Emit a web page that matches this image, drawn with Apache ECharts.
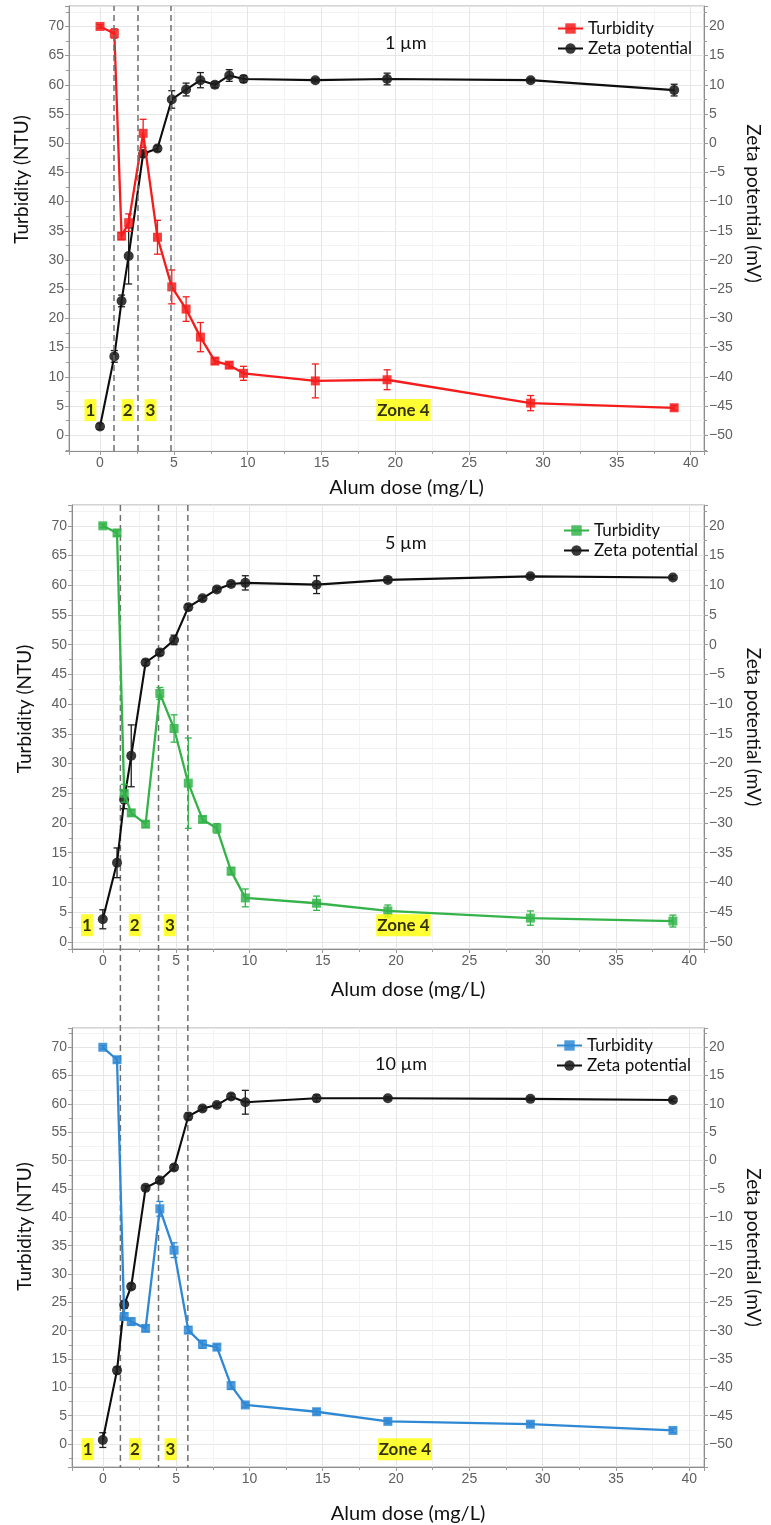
<!DOCTYPE html>
<html>
<head>
<meta charset="utf-8">
<script src="https://cdn.jsdelivr.net/npm/echarts@6/dist/echarts.min.js"></script>
<style>
html, body { margin: 0; padding: 0; background: #fff; }
#main { width: 771px; height: 1525px; }
</style>
</head>
<body>
<div id="main"></div>
<script>
// alum dose (mg/L), same for all three particle sizes
var dose = [0, 0.97, 1.46, 1.94, 2.92, 3.89, 4.86, 5.83, 6.8, 7.78, 8.75, 9.72, 14.58, 19.44, 29.16, 38.88];

// 1 um
var turb1 = [70, 68.8, 34.1, 36.4, 51.7, 33.9, 25.4, 21.6, 16.8, 12.7, 12.0, 10.6, 9.3, 9.5, 5.5, 4.7];
var turb1Err = [0.3, 0.8, 0.6, 1.5, 2.4, 2.9, 2.9, 2.1, 2.5, 0.5, 0.5, 1.2, 2.9, 1.7, 1.3, 0.4];
var zeta1 = [-48.5, -36.5, -27.0, -19.3, -1.8, -0.9, 7.5, 9.2, 10.8, 10.0, 11.6, 11.0, 10.8, 11.0, 10.8, 9.1];
var zeta1Err = [0.5, 1.0, 1.0, 4.8, 0.5, 0.5, 1.5, 1.1, 1.3, 0.5, 1.0, 0.6, 0.3, 1.0, 0.3, 1.0];

// 5 um
var turb2 = [70, 68.8, 25.0, 21.7, 19.8, 41.8, 35.9, 26.7, 20.6, 19.1, 11.9, 7.4, 6.5, 5.2, 4.0, 3.5];
var turb2Err = [0.3, 0.5, 1.5, 0.5, 0.5, 1.0, 2.3, 7.6, 0.5, 0.8, 0.6, 1.5, 1.2, 1.0, 1.2, 1.0];
var zeta2 = [-46.2, -36.7, -26.1, -18.7, -3.0, -1.3, 0.8, 6.3, 7.8, 9.3, 10.2, 10.4, 10.1, 10.9, 11.5, 11.3];
var zeta2Err = [1.6, 2.5, 1.5, 5.2, 0.5, 0.5, 0.8, 0.5, 0.4, 0.4, 0.4, 1.2, 1.5, 0.4, 0.3, 0.3];

// 10 um
var turb3 = [70, 67.8, 22.5, 21.6, 20.4, 41.5, 34.2, 20.1, 17.6, 17.1, 10.3, 6.9, 5.7, 4.0, 3.5, 2.4];
var turb3Err = [0.3, 0.5, 0.6, 0.6, 0.5, 1.3, 1.3, 0.6, 0.7, 0.5, 0.6, 0.4, 0.5, 0.4, 0.4, 0.4];
var zeta3 = [-49.3, -37.0, -25.4, -22.2, -4.8, -3.5, -1.2, 7.8, 9.2, 9.8, 11.3, 10.3, 11.0, 11.0, 10.9, 10.7];
var zeta3Err = [1.3, 0.6, 0.6, 0.5, 0.4, 0.5, 0.5, 0.6, 0.4, 0.4, 0.5, 2.1, 0.6, 0.3, 0.3, 0.3];

// zone boundaries (dose) and zone label positions
var bounds1 = [0.96, 2.55, 4.8];
var bounds23 = [1.2, 3.8, 5.8];
var zoneNames = ['1', '2', '3', 'Zone 4'];
var zoneX1 = [-0.65, 1.87, 3.42, 20.55];
var zoneX2 = [-1.08, 2.18, 4.57, 20.5];
var zoneX3 = [-1.03, 2.19, 4.62, 20.6];
var zoneY = [4.3, 2.8, -0.9];

var sizes = ['1 µm', '5 µm', '10 µm'];
var colors = ['#f51c1c', '#34b34a', '#2f88d3'];

// layout
var G = [
  { left: 69, top: 6, width: 643, height: 445 },
  { left: 72, top: 505, width: 640, height: 444 },
  { left: 72, top: 1028, width: 640, height: 440 }
];
var xRange = [[-2.1, 40.9], [-2.1, 41.0], [-2.1, 41.0]];
var yRange = [[-2.7, 73.5], [-1.2, 73.5], [-4.05, 73.4]];
var OFFSET = 50; // right axis = left axis - 50

var tickColor = '#9a9a9a';
var labelColor = '#606060';

function minus(v) {
  return v < 0 ? '\u2212' + Math.abs(v) : String(v);
}

var xAxes = [], yAxes = [], series = [], legends = [], titles = [];

[0, 1, 2].forEach(function (i) {
  xAxes.push({
    type: 'value', gridIndex: i, min: xRange[i][0], max: xRange[i][1], splitNumber: 8,
    name: 'Alum dose (mg/L)', nameLocation: 'middle', nameGap: i === 0 ? 27 : (i === 1 ? 31 : 37),
    nameTextStyle: { fontFamily: 'Lato', fontSize: 20, color: '#111', padding: [0, 0, 0, 40] },
    axisLine: { show: true, onZero: false, lineStyle: { color: '#8c8c8c' } },
    axisTick: { show: true, length: 4, lineStyle: { color: tickColor } },
    minorTick: { show: true, splitNumber: 2, length: 3, lineStyle: { color: tickColor } },
    axisLabel: { color: labelColor, fontSize: 14, fontFamily: 'Liberation Sans', margin: 5, showMinLabel: false, showMaxLabel: false },
    splitLine: { show: true, lineStyle: { color: '#e6e6e6' } },
    minorSplitLine: { show: true, lineStyle: { color: '#f3f3f3' } }
  });
  yAxes.push({
    type: 'value', gridIndex: i, position: 'left', min: yRange[i][0], max: yRange[i][1], splitNumber: 15,
    name: 'Turbidity (NTU)', nameLocation: 'middle', nameGap: 38, nameRotate: 90,
    nameTextStyle: { fontFamily: 'Lato', fontSize: 19, color: '#111', padding: [0, 0, 0, [98, 36, 42][i]] },
    axisLine: { show: true, onZero: false, lineStyle: { color: '#8c8c8c' } },
    axisTick: { show: true, length: 4, lineStyle: { color: tickColor } },
    minorTick: { show: true, splitNumber: 2, length: 3, lineStyle: { color: tickColor } },
    axisLabel: { color: labelColor, fontSize: 14, fontFamily: 'Liberation Sans', margin: 5, showMinLabel: false, showMaxLabel: false },
    splitLine: { show: true, lineStyle: { color: '#e6e6e6' } },
    minorSplitLine: { show: true, lineStyle: { color: '#f3f3f3' } }
  });
  yAxes.push({
    type: 'value', gridIndex: i, position: 'right', min: yRange[i][0] - OFFSET, max: yRange[i][1] - OFFSET, splitNumber: 15,
    name: 'Zeta potential (mV)', nameLocation: 'middle', nameGap: 40, nameRotate: -90,
    nameTextStyle: { fontFamily: 'Lato', fontSize: 19, color: '#111', padding: [0, [50, 0, 0][i], 0, 0] },
    axisLine: { show: true, onZero: false, lineStyle: { color: '#8c8c8c' } },
    axisTick: { show: true, length: 4, lineStyle: { color: tickColor } },
    minorTick: { show: true, splitNumber: 2, length: 3, lineStyle: { color: tickColor } },
    axisLabel: { color: labelColor, fontSize: 14, fontFamily: 'Liberation Sans', margin: 5, showMinLabel: false, showMaxLabel: false, formatter: minus },
    splitLine: { show: false },
    minorSplitLine: { show: false }
  });

  titles.push({
    text: sizes[i], left: [380, 380, 370][i], top: [29, 529, 1050][i],
    textStyle: { fontFamily: 'Lato', fontSize: 18, fontWeight: 'normal', color: '#111' }
  });

  legends.push({
    orient: 'vertical', left: [557, 563, 556][i], top: [20, 522, 1037][i], padding: 0, itemGap: 3,
    itemWidth: 25, itemHeight: 13,
    data: ['Turbidity|' + i, 'Zeta potential|' + i],
    formatter: function (n) { return n.split('|')[0]; },
    textStyle: { fontFamily: 'Lato', fontSize: 17, color: '#111' }
  });
});

function pairs(xs, ys) {
  return xs.map(function (x, k) { return [x, ys[k]]; });
}

function errSeries(name, xi, yi, ys, es, color, z) {
  return {
    type: 'custom', name: name, xAxisIndex: xi, yAxisIndex: yi, z: z, silent: true,
    renderItem: function (params, api) {
      var x = api.value(0);
      var lo = api.coord([x, api.value(1)]);
      var hi = api.coord([x, api.value(2)]);
      var w = 3.5;
      var st = { stroke: color, lineWidth: 1.3 };
      return {
        type: 'group', children: [
          { type: 'line', shape: { x1: lo[0], y1: lo[1], x2: hi[0], y2: hi[1] }, style: st },
          { type: 'line', shape: { x1: lo[0] - w, y1: lo[1], x2: lo[0] + w, y2: lo[1] }, style: st },
          { type: 'line', shape: { x1: hi[0] - w, y1: hi[1], x2: hi[0] + w, y2: hi[1] }, style: st }
        ]
      };
    },
    data: dose.map(function (x, k) { return [x, ys[k] - es[k], ys[k] + es[k]]; })
  };
}

var turbs = [turb1, turb2, turb3], turbErrs = [turb1Err, turb2Err, turb3Err];
var zetas = [zeta1, zeta2, zeta3], zetaErrs = [zeta1Err, zeta2Err, zeta3Err];
var zoneXs = [zoneX1, zoneX2, zoneX3];

[0, 1, 2].forEach(function (i) {
  var zetaLine = {
    type: 'line', name: 'Zeta potential|' + i, xAxisIndex: i, yAxisIndex: 2 * i + 1, z: 3,
    data: pairs(dose, zetas[i]),
    symbol: 'circle', symbolSize: 10, showAllSymbol: true,
    lineStyle: { color: '#0d0d0d', width: 2.1 },
    itemStyle: { color: '#1e1e1e', opacity: 0.88 }
  };
  if (i === 0) {
    zetaLine.markLine = {
      silent: true, symbol: ['none', 'none'], animation: false,
      label: { show: false },
      lineStyle: { color: '#707070', width: 1.5, type: [6, 4] },
      data: bounds1.map(function (b) { return { xAxis: b }; })
    };
  }
  series.push(zetaLine);
  series.push(errSeries('zerr' + i, i, 2 * i + 1, zetas[i], zetaErrs[i], '#1e1e1e', 3));
  series.push({
    type: 'line', name: 'Turbidity|' + i, xAxisIndex: i, yAxisIndex: 2 * i, z: 4,
    data: pairs(dose, turbs[i]),
    symbol: 'rect', symbolSize: 9, showAllSymbol: true,
    lineStyle: { color: colors[i], width: 2.3 },
    itemStyle: { color: colors[i], opacity: 0.85 }
  });
  series.push(errSeries('terr' + i, i, 2 * i, turbs[i], turbErrs[i], colors[i], 4));
  series.push({
    type: 'scatter', name: 'zones' + i, xAxisIndex: i, yAxisIndex: 2 * i, z: 6, silent: true,
    symbolSize: 0,
    data: zoneXs[i].map(function (x, k) { return { value: [x, zoneY[i]], name: zoneNames[k] }; }),
    label: {
      show: true, position: 'inside', formatter: '{b}',
      fontFamily: 'Lato', fontWeight: 'bold', fontSize: 17, color: '#000',
      backgroundColor: '#ffff00', padding: [3, 1, 2, 1]
    }
  });
});

// zone boundaries for 5 um and 10 um run through both panels
series.push({
  type: 'custom', name: 'bounds23', xAxisIndex: 1, yAxisIndex: 2, z: 2, silent: true, clip: false,
  renderItem: function (params, api) {
    var p = api.coord([api.value(0), 0]);
    var top = params.coordSys.y;
    var bottom = G[2].top + G[2].height;
    return {
      type: 'line', shape: { x1: p[0], y1: top, x2: p[0], y2: bottom },
      style: { stroke: '#707070', lineWidth: 1.5, lineDash: [6, 4] }
    };
  },
  data: bounds23.map(function (b) { return [b]; })
});

var myChart = echarts.init(document.getElementById('main'));
myChart.setOption({
  backgroundColor: '#fff',
  animation: false,
  title: titles,
  legend: legends,
  grid: G.map(function (g) {
    return { left: g.left, top: g.top, width: g.width, height: g.height, show: true, borderColor: '#a8a8a8', borderWidth: 1, backgroundColor: '#fff' };
  }),
  xAxis: xAxes,
  yAxis: yAxes,
  series: series
});
</script>
</body>
</html>
